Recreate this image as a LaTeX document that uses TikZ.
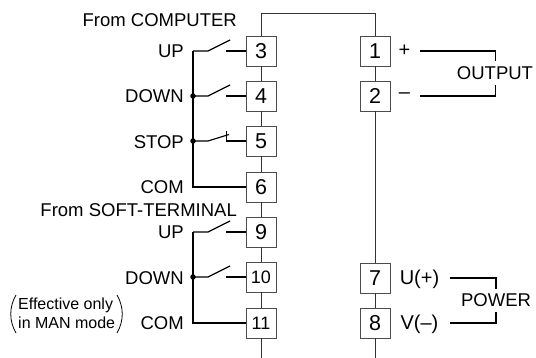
\documentclass[tikz,border=0pt]{standalone}
\usepackage{fontspec}
\setmainfont{Liberation Sans}
\tikzset{
  term/.style={draw=black!70,line width=0.9pt,fill=white,minimum width=30pt,minimum height=30pt,inner sep=0pt,font=\fontsize{21.5}{21.5}\selectfont},
  termsm/.style={term,font=\fontsize{18}{18}\selectfont},
  lab/.style={inner sep=0pt,anchor=east,font=\fontsize{18.5}{18.5}\selectfont},
  rlab/.style={inner sep=0pt,anchor=center,font=\fontsize{18.5}{18.5}\selectfont},
  plab/.style={inner sep=0pt,anchor=center,font=\fontsize{20}{20}\selectfont},
  notelab/.style={inner sep=0pt,anchor=west,font=\fontsize{16}{16}\selectfont},
  wire/.style={line width=0.8pt,black!80},
  bus/.style={line width=1.15pt},
  jdot/.style={circle,fill=black,inner sep=0pt,minimum size=5.5pt}
}
\begin{document}
\begin{tikzpicture}[x=1pt,y=-1pt,line cap=butt]
\useasboundingbox (0,0) rectangle (536,358);
% terminals
\foreach \n/\t/\y in {t3/3/51,t4/4/96,t5/5/141,t6/6/187,t9/9/232}
  \node[term] (\n) at (261,\y) {\t};
\node[termsm] (t10) at (261,277) {10};
\node[termsm] (t11) at (261,323) {11};
\foreach \n/\t/\y in {t1/1/51,t2/2/96,t7/7/278,t8/8/323}
  \node[term] (\n) at (375,\y) {\t};
% vertical chain
\coordinate (topL) at (261,13); \coordinate (topR) at (375,13);
\coordinate (endL) at (261,358); \coordinate (endR) at (375,358);
\draw[wire] (t3.north) -- (topL) -- (topR) -- (t1.north);
\foreach \a/\b in {t3/t4,t4/t5,t5/t6,t6/t9,t9/t10,t10/t11,t1/t2,t2/t7,t7/t8}
  \draw[wire] (\a.south) -- (\b.north);
\draw[wire] (t11.south) -- (endL);
\draw[wire] (t8.south) -- (endR);
% labels
\node[lab] (fc) at (237,20.5) {From COMPUTER};
\node[lab] (up1) at (184,51) {UP};
\node[lab] (dn1) at (184,96.5) {DOWN};
\node[lab] (st1) at (184,142) {STOP};
\node[lab] (cm1) at (184,187) {COM};
\node[lab] (fs) at (237,210.5) {From SOFT-TERMINAL};
\node[lab] (up2) at (184,232.5) {UP};
\node[lab] (dn2) at (184,278) {DOWN};
\node[lab] (cm2) at (184,323.5) {COM};
% switch groups
\foreach \p/\q/\y in {a/t3/51,b/t4/96,d/t9/232,e/t10/277}{
  \coordinate (\p0) at (193,\y);
  \coordinate (\p1) at (208,\y);
  \coordinate (\p2) at (230,\y-11);
  \coordinate (\p3) at (226,\y);
  \draw[bus] (\p0) -- (\p1) -- (\p2);
  \draw[bus] (\p3) -- (\q.west);
}
% STOP (normally closed)
\coordinate (c0) at (193,141); \coordinate (c1) at (208,141);
\coordinate (c2) at (229,134.5); \coordinate (c3) at (226.5,141); \coordinate (c4) at (226.5,131);
\draw[bus] (c0) -- (c1) -- (c2);
\draw[bus] (c4) -- (c3) -- (t5.west);
% buses
\coordinate (b1) at (193,187); \coordinate (b2) at (193,323);
\draw[bus] (a0) -- (b1) -- (t6.west);
\draw[bus] (d0) -- (b2) -- (t11.west);
\node[jdot] (j1) at (b0) {};
\node[jdot] (j2) at (c0) {};
\node[jdot] (j3) at (e0) {};
% output
\node[plab] (plus) at (404.5,51) {+};
\node[plab] (minus) at (404.5,96) {–};
\node[rlab] (out) at (495,73) {OUTPUT};
\coordinate (o1) at (420,51); \coordinate (o2) at (495.5,51); \coordinate (o3) at (495.5,61);
\coordinate (o4) at (420,96); \coordinate (o5) at (495.5,96); \coordinate (o6) at (495.5,85);
\draw[bus] (o1) -- (o2) -- (o3);
\draw[bus] (o4) -- (o5) -- (o6);
% power
\node[plab] (uu) at (419.5,279) {U(+)};
\node[plab] (vv) at (419.5,324) {V(–)};
\node[rlab] (pw) at (496,300) {POWER};
\coordinate (p1) at (450,278); \coordinate (p2) at (496,278); \coordinate (p3) at (496,289);
\coordinate (p4) at (450,323); \coordinate (p5) at (496,323); \coordinate (p6) at (496,312);
\draw[bus] (p1) -- (p2) -- (p3);
\draw[bus] (p4) -- (p5) -- (p6);
% note
\node[notelab] (n1) at (18,305) {Effective only};
\node[notelab] (n2) at (18,323) {in MAN mode};
\draw[line width=0.8pt] (16,295) .. controls (9,307) and (9,321) .. (16,333);
\draw[line width=0.8pt] (117,295) .. controls (124,307) and (124,321) .. (117,333);
\end{tikzpicture}
\end{document}
